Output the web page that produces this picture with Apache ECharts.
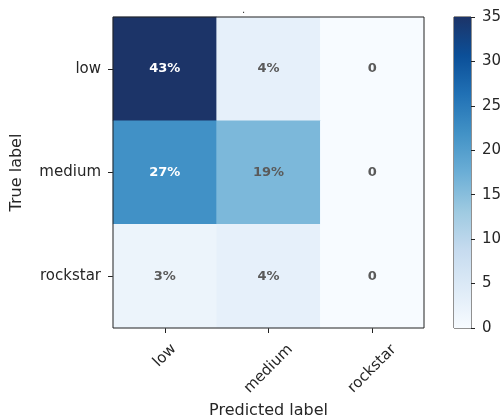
<!DOCTYPE html>
<html>
<head>
<meta charset="utf-8">
<script src="https://cdn.jsdelivr.net/npm/echarts@6/dist/echarts.min.js"></script>
<style>
  html, body { margin: 0; padding: 0; background: #fff; }
  #chart { width: 503px; height: 418px; }
</style>
</head>
<body>
<div id="chart"></div>
<script>
// Confusion matrix: rows are true labels, columns predicted labels
const classes = ['low', 'medium', 'rockstar'];
// Sample counts per cell (row = true, column = predicted)
const countsLow = [35, 3, 0];
const countsMedium = [22, 16, 0];
const countsRockstar = [2, 3, 0];
// Share of all samples printed in each cell
const pctLow = [43, 4, 0];
const pctMedium = [27, 19, 0];
const pctRockstar = [3, 4, 0];
// Colour bar ticks
const colorbarTicks = [0, 5, 10, 15, 20, 25, 30, 35];

// "Blues" colour ramp, light to dark
const blues = ['#f7fbff', '#deebf7', '#c6dbef', '#9ecae1', '#6baed6',
               '#4292c6', '#2171b5', '#0b4f98', '#1c3468'];

const countRows = [countsLow, countsMedium, countsRockstar];
const pctRows = [pctLow, pctMedium, pctRockstar];
const cells = [];
countRows.forEach((row, r) => {
  row.forEach((v, c) => cells.push([c, r, v, pctRows[r][c]]));
});
const vmax = Math.max(...countRows.flat());
const thresh = vmax / 2;

const font = 'DejaVu Sans';
const ink = '#262626';
const chart = echarts.init(document.getElementById('chart'), null, { renderer: 'canvas' });

// Rotated tick labels are centred under their tick with their tops level;
// short labels get padding so they sit higher than the long ones.
const tickRich = {
  s: { padding: [0, 0, 19, 19], fontFamily: font, fontSize: 15, color: ink },
  l: { padding: [0, 0, 0, 0], fontFamily: font, fontSize: 15, color: ink }
};

chart.setOption({
  animation: false,
  backgroundColor: '#fff',
  title: {
    text: '.',
    left: 237, top: 0,
    textStyle: { fontFamily: font, fontSize: 10, fontWeight: 'normal', color: '#333' }
  },
  grid: [
    { left: 113, top: 17, width: 311, height: 311, show: true, outerBoundsMode: 'none',
      borderColor: '#222', borderWidth: 1, backgroundColor: 'transparent', z: 5 },
    { left: 454, top: 17, width: 17, height: 311, show: true, outerBoundsMode: 'none',
      borderColor: '#222', borderWidth: 1, backgroundColor: 'transparent' }
  ],
  xAxis: [
    {
      type: 'category', gridIndex: 0, data: classes, position: 'bottom',
      name: 'Predicted label', nameLocation: 'middle', nameGap: 73,
      nameTextStyle: { fontFamily: font, fontSize: 16, color: ink },
      axisLine: { show: false },
      axisTick: { show: true, alignWithLabel: true, length: 5, lineStyle: { color: '#222' } },
      axisLabel: {
        rotate: 45, margin: 41, align: 'center', verticalAlign: 'middle',
        formatter: v => (v.length < 5 ? '{s|' + v + '}' : '{l|' + v + '}'),
        rich: tickRich
      },
      splitLine: { show: false }
    },
    {
      type: 'category', gridIndex: 1, data: [''],
      axisLine: { show: false }, axisTick: { show: false }, axisLabel: { show: false }
    }
  ],
  yAxis: [
    {
      type: 'category', gridIndex: 0, data: classes, inverse: true,
      name: 'True label', nameLocation: 'middle', nameGap: 88,
      nameTextStyle: { fontFamily: font, fontSize: 16, color: ink },
      axisLine: { show: false },
      axisTick: { show: true, alignWithLabel: true, length: 5, lineStyle: { color: '#222' } },
      axisLabel: { margin: 12, fontFamily: font, fontSize: 15, color: ink },
      splitLine: { show: false }
    },
    {
      type: 'value', gridIndex: 1, position: 'right', min: 0, max: vmax, interval: 5,
      axisLine: { show: false },
      axisTick: { show: true, length: 4, lineStyle: { color: '#222' } },
      axisLabel: {
        margin: 11, fontFamily: font, fontSize: 15, color: ink,
        formatter: v => (colorbarTicks.includes(v) ? String(v) : '')
      },
      splitLine: { show: false }
    }
  ],
  visualMap: {
    show: false, type: 'continuous', seriesIndex: 0, dimension: 2,
    min: 0, max: vmax, inRange: { color: blues }
  },
  series: [
    {
      type: 'heatmap', xAxisIndex: 0, yAxisIndex: 0,
      data: cells.map(d => ({
        value: d,
        // white text on dark cells, grey on light ones
        label: { color: d[2] > thresh ? '#fff' : '#5a5a5a' }
      })),
      itemStyle: { borderWidth: 0 },
      label: {
        show: true, fontFamily: font, fontSize: 13, fontWeight: 'bold',
        formatter: p => (p.value[3] === 0 ? '0' : p.value[3] + '%')
      }
    },
    {
      type: 'bar', xAxisIndex: 1, yAxisIndex: 1, data: [vmax],
      barWidth: '100%', silent: true,
      itemStyle: {
        color: new echarts.graphic.LinearGradient(0, 1, 0, 0,
          blues.map((c, i) => ({ offset: i / (blues.length - 1), color: c })))
      }
    }
  ]
});
</script>
</body>
</html>
